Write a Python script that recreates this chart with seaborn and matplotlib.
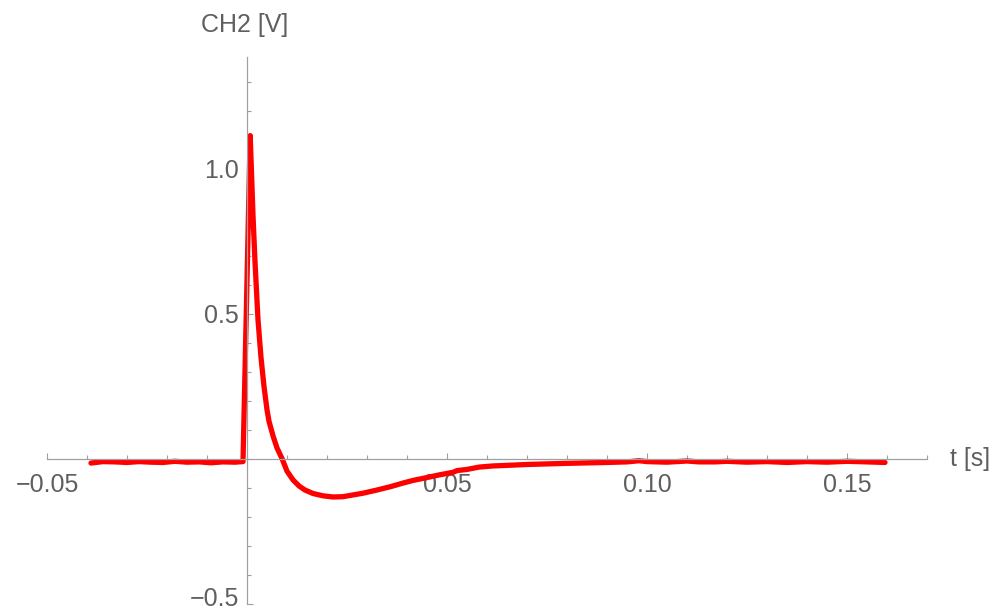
import numpy as np
import pandas as pd
import seaborn as sns
import matplotlib
matplotlib.use('Agg')
import matplotlib.pyplot as plt
import matplotlib.transforms as mtransforms
from matplotlib.ticker import FixedLocator, MultipleLocator

# ______________________________________________________________________________

# Data (time in s, CH2 in V)
t_base = [-0.039, -0.036, -0.033, -0.030, -0.027, -0.024, -0.021, -0.018,
          -0.015, -0.012, -0.009, -0.006, -0.003, -0.001]
v_base = [-0.014, -0.009, -0.010, -0.012, -0.009, -0.011, -0.012, -0.008,
          -0.011, -0.010, -0.013, -0.010, -0.011, -0.009]

t_pulse = [0.0008, 0.0015, 0.002, 0.00275, 0.0035, 0.00425, 0.005, 0.0055,
           0.0065, 0.0075, 0.0088, 0.010, 0.0115, 0.013, 0.0145, 0.0165,
           0.019, 0.0215, 0.024, 0.0265, 0.029, 0.0325, 0.036, 0.039, 0.0415,
           0.045, 0.048, 0.0515, 0.0525, 0.055, 0.058, 0.0615]
v_pulse = [1.115, 0.84, 0.68, 0.48, 0.35, 0.25, 0.17, 0.13,
           0.08, 0.038, 0.0, -0.042, -0.072, -0.093, -0.107, -0.119,
           -0.127, -0.131, -0.130, -0.124, -0.118, -0.107, -0.095, -0.083,
           -0.074, -0.064, -0.055, -0.046, -0.040, -0.036, -0.028, -0.024]

t_tail = [0.065, 0.070, 0.075, 0.080, 0.0865, 0.090, 0.095, 0.098, 0.100,
          0.105, 0.110, 0.113, 0.117, 0.120, 0.125, 0.130, 0.135, 0.140,
          0.145, 0.150, 0.155, 0.1595]
v_tail = [-0.022, -0.019, -0.017, -0.015, -0.013, -0.012, -0.010, -0.006,
          -0.009, -0.011, -0.007, -0.010, -0.010, -0.008, -0.011, -0.009,
          -0.012, -0.009, -0.011, -0.008, -0.010, -0.012]

x_major = [-0.05, 0.05, 0.10, 0.15]
x_labels = ['\u22120.05', '0.05', '0.10', '0.15']
y_major = [-0.5, 0.5, 1.0]
y_labels = ['\u22120.5', '0.5', '1.0']

df = pd.DataFrame({'t': t_base + t_pulse + t_tail,
                   'v': v_base + v_pulse + v_tail})

# ______________________________________________________________________________

sns.set_style('white')
plt.rcParams['font.family'] = ['Liberation Sans', 'DejaVu Sans']
axis_col = '#a0a0a0'
text_col = '#5f5f5f'

fig = plt.figure(figsize=(9.97, 6.13), dpi=100)
ax = fig.add_axes([47 / 997, 9 / 613, 880 / 997, 547 / 613])

sns.lineplot(data=df, x='t', y='v', color='#ff0000', lw=3.8,
             estimator=None, sort=False, ax=ax, solid_joinstyle='round')

ax.set_xlim(-0.05, 0.17)
ax.set_ylim(-0.5, 1.386)

# Axes crossing at the origin, Mathematica style
for spine in ['top', 'right']:
    ax.spines[spine].set_visible(False)
ax.spines['left'].set_position(('data', 0))
ax.spines['bottom'].set_position(('data', 0))
for spine in ['left', 'bottom']:
    ax.spines[spine].set_color(axis_col)
    ax.spines[spine].set_linewidth(0.9)

ax.xaxis.set_major_locator(FixedLocator(x_major))
ax.xaxis.set_minor_locator(MultipleLocator(0.01))
ax.yaxis.set_major_locator(FixedLocator(y_major))
ax.yaxis.set_minor_locator(MultipleLocator(0.1))
ax.set_xticklabels(x_labels)
ax.set_yticklabels(y_labels)
ax.tick_params(which='both', direction='in', color=axis_col, width=0.8,
               labelcolor=text_col, labelsize=18)
ax.tick_params(which='major', length=4.5)
ax.tick_params(which='minor', length=3)
ax.tick_params(axis='x', which='both', bottom=True, pad=10)
ax.tick_params(axis='y', which='both', left=True, pad=6)

# nudge the bottom y label up so it stays inside the figure
lowest = ax.get_yticklabels()[0]
lowest.set_transform(lowest.get_transform() +
                     mtransforms.ScaledTranslation(0, 7 / 100,
                                                   fig.dpi_scale_trans))

ax.set_xlabel('')
ax.set_ylabel('')
ax.text(950, 613 - 459, 't [s]', transform=None, fontsize=18,
        color=text_col, ha='left', va='center')
ax.text(245, 613 - 25, 'CH2 [V]', transform=None, fontsize=18,
        color=text_col, ha='center', va='center')
ax.grid(False)

fig.savefig('out.png', dpi=100)
